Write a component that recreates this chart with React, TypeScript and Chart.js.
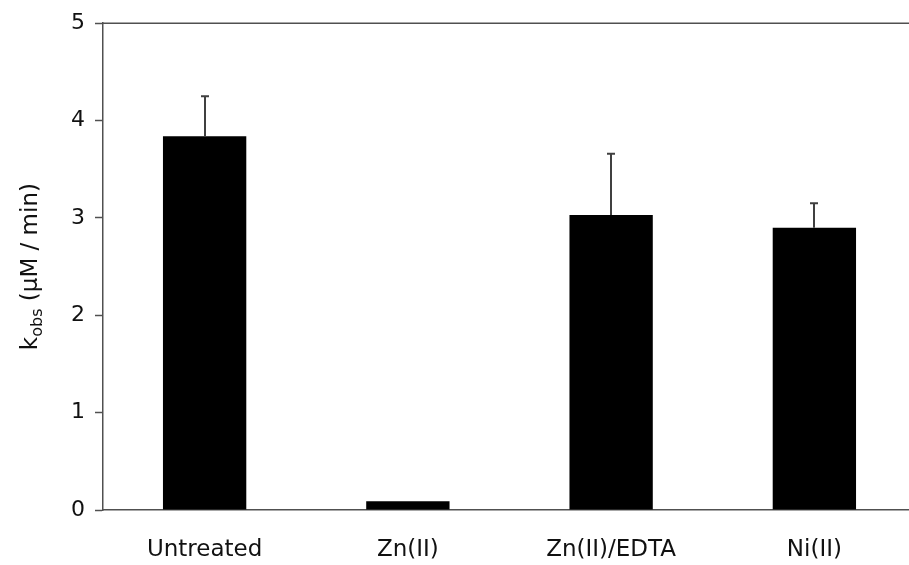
import React, { useEffect, useRef } from "react";
import { Chart, registerables } from "chart.js";

Chart.register(...registerables);

const categories = ["Untreated", "Zn(II)", "Zn(II)/EDTA", "Ni(II)"];
const kobsValues = [3.84, 0.09, 3.03, 2.9];
const errorTops = [4.25, 0.09, 3.66, 3.15];
const yTickValues = [0, 1, 2, 3, 4, 5];

const FONT = "'DejaVu Sans', sans-serif";
const AXIS_COLOR = "#505050";
const TEXT_COLOR = "#111111";

const errorBarPlugin = {
  id: "errorBars",
  afterDatasetsDraw(chart: any) {
    const ctx = chart.ctx;
    const meta = chart.getDatasetMeta(0);
    const y = chart.scales.y;
    ctx.save();
    ctx.strokeStyle = "#404040";
    ctx.lineWidth = 2;
    meta.data.forEach((bar: any, i: number) => {
      const top = errorTops[i];
      if (top <= kobsValues[i]) return;
      const x = Math.round(bar.x);
      const yTop = y.getPixelForValue(top);
      const yBase = y.getPixelForValue(kobsValues[i]);
      ctx.beginPath();
      ctx.moveTo(x, yBase);
      ctx.lineTo(x, yTop);
      ctx.moveTo(x - 4, yTop);
      ctx.lineTo(x + 4, yTop);
      ctx.stroke();
    });
    ctx.restore();
  },
};

const framePlugin = {
  id: "frameAndTitle",
  afterDraw(chart: any) {
    const ctx = chart.ctx;
    const { left, right, top, bottom } = chart.chartArea;
    ctx.save();
    ctx.strokeStyle = AXIS_COLOR;
    ctx.lineWidth = 1.5;
    ctx.beginPath();
    ctx.moveTo(left, top);
    ctx.lineTo(right, top);
    ctx.stroke();

    // Y axis title with subscript
    ctx.translate(37, (top + bottom) / 2);
    ctx.rotate(-Math.PI / 2);
    ctx.fillStyle = TEXT_COLOR;
    const mainFont = `23px ${FONT}`;
    const subFont = `16px ${FONT}`;
    ctx.font = mainFont;
    const wk = ctx.measureText("k").width;
    const rest = " (µM / min)";
    const wr = ctx.measureText(rest).width;
    ctx.font = subFont;
    const ws = ctx.measureText("obs").width;
    const total = wk + ws + wr;
    let x = -total / 2;
    ctx.textBaseline = "alphabetic";
    ctx.textAlign = "left";
    ctx.font = mainFont;
    ctx.fillText("k", x, 0);
    x += wk;
    ctx.font = subFont;
    ctx.fillText("obs", x, 5);
    x += ws;
    ctx.font = mainFont;
    ctx.fillText(rest, x, 0);
    ctx.restore();
  },
};

export default function App() {
  const ref = useRef<HTMLCanvasElement | null>(null);

  useEffect(() => {
    if (!ref.current) return;
    const chart = new Chart(ref.current, {
      type: "bar",
      data: {
        labels: categories,
        datasets: [
          {
            data: kobsValues,
            backgroundColor: "#000000",
            borderColor: "#000000",
            borderWidth: 0,
            barPercentage: 0.41,
            categoryPercentage: 1,
          },
        ],
      },
      options: {
        animation: false,
        responsive: false,
        maintainAspectRatio: false,
        layout: { padding: { top: 22, left: 0, right: 0, bottom: 0 } },
        plugins: {
          legend: { display: false },
          tooltip: { enabled: false },
          title: { display: false },
        },
        scales: {
          x: {
            offset: true,
            grid: { display: false, drawTicks: false },
            border: { display: true, color: AXIS_COLOR, width: 1.5 },
            ticks: {
              color: TEXT_COLOR,
              font: { family: FONT, size: 23 },
              padding: 26,
            },
            afterFit: (scale: any) => {
              scale.height = 55;
            },
          },
          y: {
            min: 0,
            max: 5,
            afterBuildTicks: (scale: any) => {
              scale.ticks = yTickValues.map((v) => ({ value: v }));
            },
            grid: {
              display: true,
              drawOnChartArea: false,
              drawTicks: true,
              tickLength: 8,
              tickWidth: 1.5,
              color: AXIS_COLOR,
            },
            border: { display: true, color: AXIS_COLOR, width: 1.5 },
            ticks: {
              color: TEXT_COLOR,
              font: { family: FONT, size: 22 },
              padding: 10,
            },
            afterFit: (scale: any) => {
              scale.width = 103;
            },
          },
        },
      },
      plugins: [errorBarPlugin, framePlugin],
    });
    return () => chart.destroy();
  }, []);

  return (
    <div
      style={{
        position: "fixed",
        left: 0,
        top: 0,
        width: 909,
        height: 565,
        overflow: "hidden",
        background: "#fff",
      }}
    >
      <canvas ref={ref} width={916} height={565} style={{ width: 916, height: 565 }} />
    </div>
  );
}
